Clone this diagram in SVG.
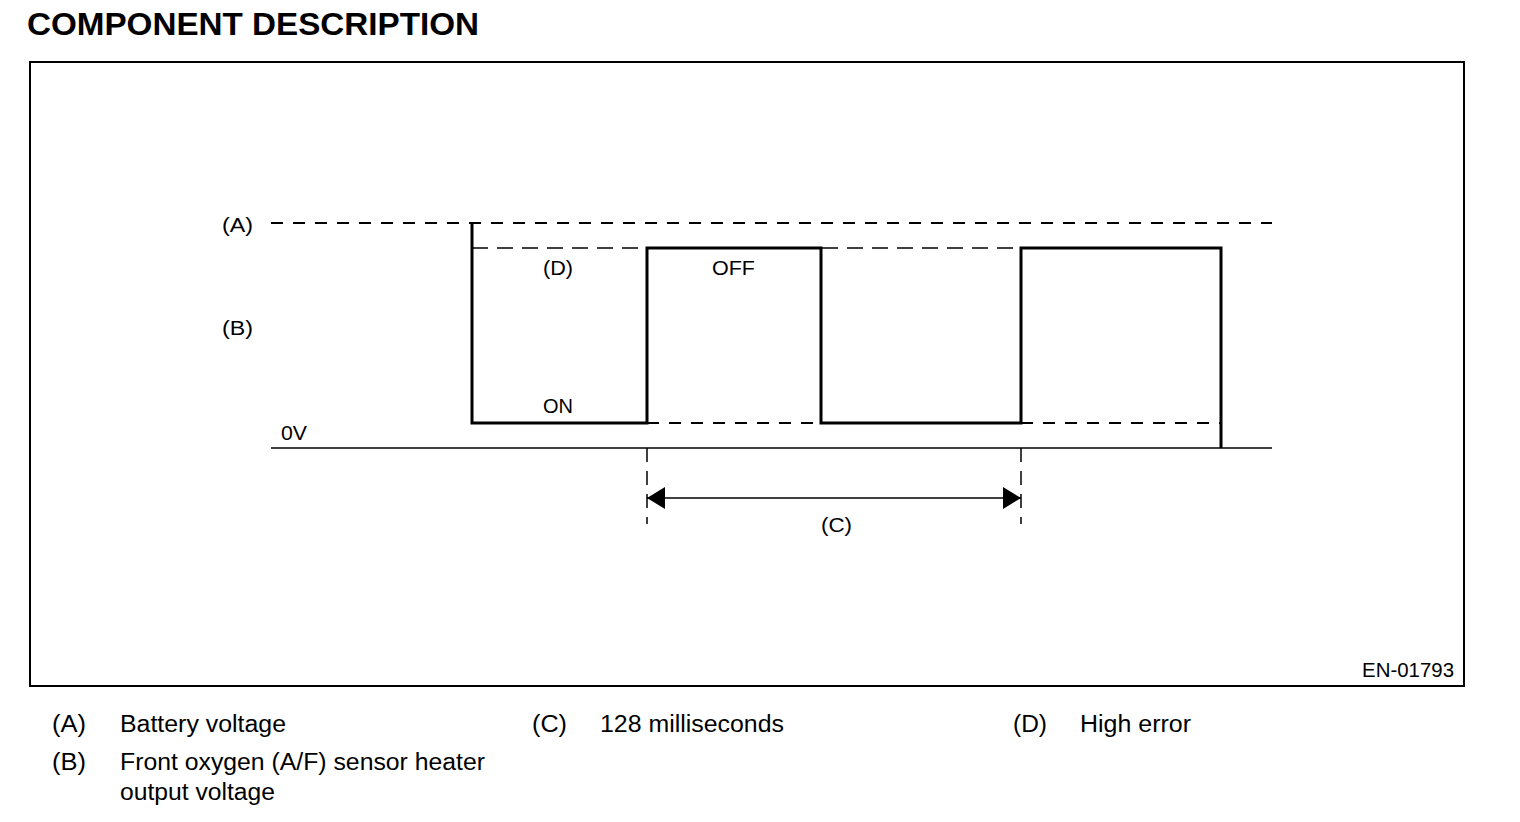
<svg xmlns="http://www.w3.org/2000/svg" width="1520" height="822" viewBox="0 0 1520 822">
<defs>
<style>
.t{font-family:"Liberation Sans",Arial,Helvetica,sans-serif;fill:#000}
.lbl{font-size:20px}
.leg{font-size:23px}
.title{font-size:31px;font-weight:bold}
.wave{fill:none;stroke:#000;stroke-width:3;stroke-linejoin:miter}
.dashA{stroke:#000;stroke-width:2.2;stroke-dasharray:12 10;fill:none}
.dashD{stroke:#000;stroke-width:1.5;stroke-dasharray:16 9;fill:none}
.dashV{stroke:#000;stroke-width:1.5;stroke-dasharray:14 9;fill:none}
.thin{stroke:#000;stroke-width:1.5;fill:none}
</style>
<marker id="arr" viewBox="0 0 18 22" refX="18" refY="11" markerWidth="18" markerHeight="22" markerUnits="userSpaceOnUse" orient="auto-start-reverse">
<path d="M0,0 L18,11 L0,22 Z" fill="#000"/>
</marker>
</defs>
<rect width="1520" height="822" fill="#fff"/>
<text class="t title" x="27" y="35" textLength="452" lengthAdjust="spacingAndGlyphs">COMPONENT DESCRIPTION</text>
<rect id="frame" x="30" y="62" width="1434" height="624" fill="none" stroke="#000" stroke-width="2"/>

<g id="connectors">
<line class="dashA" x1="271" y1="223" x2="1272" y2="223"/>
<line class="dashD" x1="472" y1="248" x2="1021" y2="248"/>
<line class="dashA" x1="647" y1="423" x2="821" y2="423"/>
<line class="dashA" x1="1021" y1="423" x2="1221" y2="423"/>
<line class="thin" x1="271" y1="448" x2="1272" y2="448"/>
<line class="dashV" x1="647" y1="448" x2="647" y2="524"/>
<line class="dashV" x1="1021" y1="448" x2="1021" y2="524"/>
<line class="thin" x1="647" y1="498" x2="1021" y2="498" marker-start="url(#arr)" marker-end="url(#arr)"/>
</g>

<g id="waveform">
<path class="wave" d="M472,223 V423 H647 V248 H821 V423 H1021 V248 H1221 V448"/>
</g>

<g id="labels">
<text class="t lbl" x="222" y="232" textLength="31" lengthAdjust="spacingAndGlyphs">(A)</text>
<text class="t lbl" x="222" y="335" textLength="31" lengthAdjust="spacingAndGlyphs">(B)</text>
<text class="t lbl" x="543" y="275" textLength="30" lengthAdjust="spacingAndGlyphs">(D)</text>
<text class="t lbl" x="712" y="275" textLength="43" lengthAdjust="spacingAndGlyphs">OFF</text>
<text class="t lbl" x="543" y="413" textLength="30" lengthAdjust="spacingAndGlyphs">ON</text>
<text class="t lbl" x="281" y="440" textLength="26" lengthAdjust="spacingAndGlyphs">0V</text>
<text class="t lbl" x="821" y="532" textLength="31" lengthAdjust="spacingAndGlyphs">(C)</text>
<text class="t lbl" x="1362" y="677" textLength="92" lengthAdjust="spacingAndGlyphs">EN-01793</text>
</g>

<g id="legend">
<text class="t leg" x="52" y="732" textLength="34" lengthAdjust="spacingAndGlyphs">(A)</text>
<text class="t leg" x="120" y="732" textLength="166" lengthAdjust="spacingAndGlyphs">Battery voltage</text>
<text class="t leg" x="52" y="770" textLength="34" lengthAdjust="spacingAndGlyphs">(B)</text>
<text class="t leg" x="120" y="770" textLength="365" lengthAdjust="spacingAndGlyphs">Front oxygen (A/F) sensor heater</text>
<text class="t leg" x="120" y="800" textLength="155" lengthAdjust="spacingAndGlyphs">output voltage</text>
<text class="t leg" x="532" y="732" textLength="35" lengthAdjust="spacingAndGlyphs">(C)</text>
<text class="t leg" x="600" y="732" textLength="184" lengthAdjust="spacingAndGlyphs">128 milliseconds</text>
<text class="t leg" x="1013" y="732" textLength="34" lengthAdjust="spacingAndGlyphs">(D)</text>
<text class="t leg" x="1080" y="732" textLength="111" lengthAdjust="spacingAndGlyphs">High error</text>
</g>
</svg>
